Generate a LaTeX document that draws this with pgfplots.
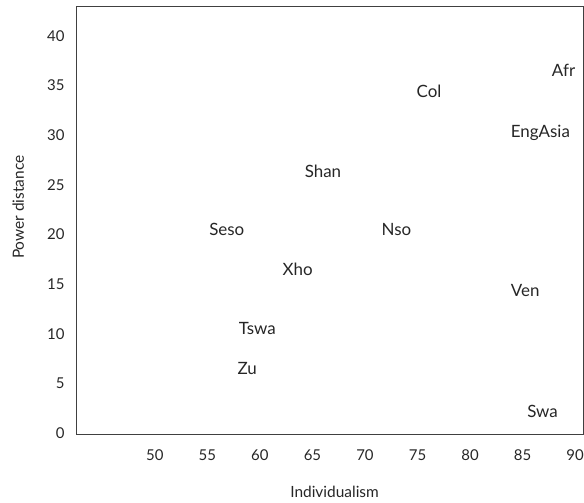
\documentclass[border=0pt]{standalone}
\usepackage{fontspec}
\setmainfont{Lato}
\usepackage{pgfplots}
\pgfplotsset{compat=1.18}
\begin{document}
\begin{tikzpicture}
\begin{axis}[
  name=ax,
  scale only axis,
  width=507bp, height=428bp,
  xmin=42.5, xmax=90.75,
  ymin=-0.1, ymax=43,
  xtick={50,55,...,90},
  ytick={0,5,...,40},
  major tick length=0pt,
  axis line style={black!75, line width=0.9pt},
  /pgf/number format/assume math mode=true,
  tick label style={font=\fontsize{15}{18}\selectfont, text=black!85},
  xticklabel style={yshift=-12bp},
  yticklabel style={xshift=-8bp},
  xlabel={Individualism},
  ylabel={Power distance},
  label style={font=\fontsize{15.5}{18}\selectfont, text=black!85},
  xlabel style={at={(axis description cs:0.51,0)}, anchor=base, yshift=-63bp},
  ylabel style={at={(axis description cs:0,0.53)}, anchor=base, yshift=52bp},
]
\addplot[only marks, mark=none, nodes near coords, point meta=explicit symbolic,
  nodes near coords style={anchor=base, inner sep=0pt, font=\fontsize{17}{20}\selectfont, text=black!85}]
  table[meta=label] {
x y label
88.9 35.85 Afr
76.1 33.8 Col
86.7 29.8 EngAsia
66.0 25.7 Shan
56.85 19.9 Seso
73.0 19.9 Nso
63.6 15.9 Xho
85.25 13.7 Ven
59.75 9.9 Tswa
58.8 5.9 Zu
86.9 1.6 Swa
};
\end{axis}
\pgfresetboundingbox
\path ([shift={(-76bp,-69bp)}]ax.south west) rectangle ([shift={(1bp,6bp)}]ax.north east);
\end{tikzpicture}
\end{document}
